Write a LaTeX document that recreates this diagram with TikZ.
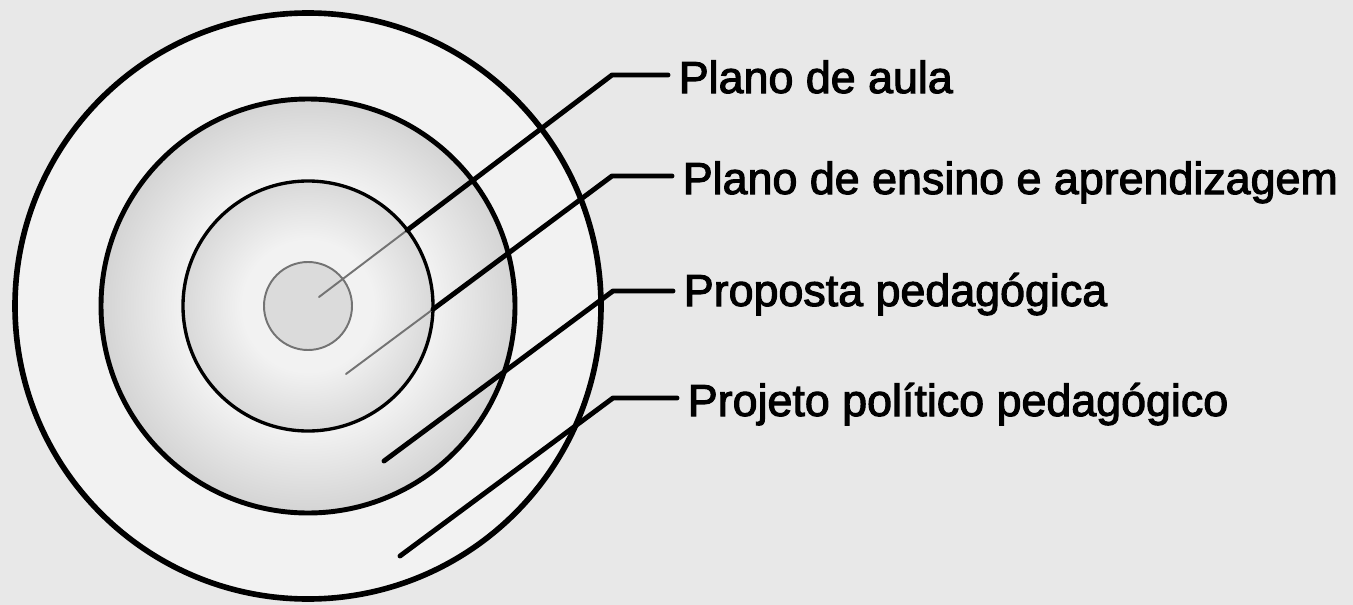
\documentclass[tikz,border=0pt]{standalone}
\usepackage{fontspec}
\setmainfont{Liberation Sans}
\newfontfamily\lblfont{Liberation Sans}[FakeBold=2.4]
\usetikzlibrary{intersections}

\definecolor{paper}{gray}{0.91}
\definecolor{ringlight}{gray}{0.95}
\definecolor{ringdark}{gray}{0.83}
\definecolor{corelight}{gray}{0.95}
\definecolor{coredark}{gray}{0.85}
\definecolor{seedfill}{gray}{0.86}
\pgfdeclareradialshading{ringshade}{\pgfpointorigin}{color(0bp)=(ringlight); color(15bp)=(ringlight); color(25bp)=(ringdark); color(50bp)=(ringdark)}
\pgfdeclareradialshading{coreshade}{\pgfpointorigin}{color(0bp)=(corelight); color(13bp)=(corelight); color(25bp)=(coredark); color(50bp)=(coredark)}

\tikzset{
  lbl/.style={anchor=base west, inner xsep=0.21cm, inner ysep=0pt, font=\lblfont\fontsize{25.5}{30}\selectfont},
  leader/.style={line width=2.8pt, line join=round, line cap=round},
  faint/.style={line width=1.1pt, color=black!55, line cap=round}
}

\begin{document}
\begin{tikzpicture}[x=0.02cm, y=0.02cm]
  \useasboundingbox (0,0) rectangle (1353,-605);
  \fill[paper] (0,0) rectangle (1353,-605);
  \coordinate (o)  at (308,-306);
  \coordinate (s1) at (319,-297);
  \coordinate (s2) at (346,-374);
  \coordinate (s3) at (384,-461);
  \coordinate (s4) at (400,-556);
  \coordinate (k1) at (612,-75);
  \coordinate (k2) at (612,-176);
  \coordinate (k3) at (613,-291);
  \coordinate (k4) at (613,-398);

  \fill[ringlight] (o) circle (293);
  \shade[shading=ringshade] (o) circle (207);
  \shade[shading=coreshade] (o) circle (125);
  \fill[seedfill] (o) circle (44);

  \draw[line width=3.2pt] (o) circle (293);
  \draw[line width=2.8pt] (o) circle (207);
  \draw[line width=1.9pt] (o) circle (125);
  \draw[line width=1.1pt, color=black!55] (o) circle (44);

  \node[lbl] (aula)    at (668,-93)  {Plano de aula};
  \node[lbl] (ensino)  at (672,-194) {Plano de ensino e aprendizagem};
  \node[lbl] (proposta) at (673,-306) {Proposta pedagógica};
  \node[lbl] (projeto) at (677,-416) {Projeto político pedagógico};

  \path[name path=core] (o) circle (125);
  \path[name path=ray1] (s1) -- (k1);
  \path[name path=ray2] (s2) -- (k2);
  \path[name intersections={of=core and ray1, by={x1}}];
  \path[name intersections={of=core and ray2, by={x2}}];

  \draw[faint] (s1) -- (x1);
  \draw[faint] (s2) -- (x2);
  \draw[leader] (x1) -- (k1) -- (k1 -| aula.west);
  \draw[leader] (x2) -- (k2) -- (k2 -| ensino.west);
  \draw[leader] (s3) -- (k3) -- (k3 -| proposta.west);
  \draw[leader] (s4) -- (k4) -- (k4 -| projeto.west);
\end{tikzpicture}
\end{document}
